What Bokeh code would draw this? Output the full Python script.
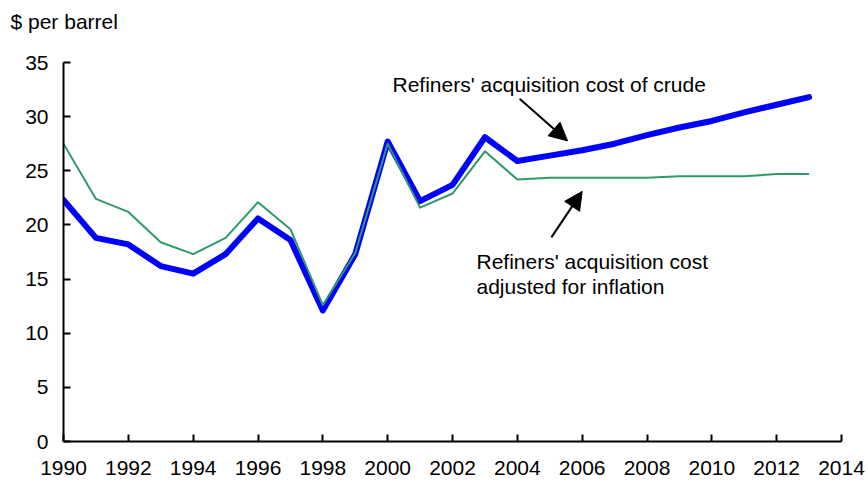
from bokeh.plotting import figure
from bokeh.models import Range1d, FixedTicker, Label, Arrow, NormalHead, ColumnDataSource, Title
from bokeh.embed import file_html
from bokeh.resources import INLINE

years = list(range(1990, 2014))
nominal = [22.3, 18.8, 18.2, 16.2, 15.5, 17.3, 20.6, 18.6, 12.1, 17.3, 27.7, 22.2,
           23.7, 28.1, 25.9, 26.4, 26.9, 27.5, 28.3, 29.0, 29.6, 30.4, 31.1, 31.8]
real = [27.5, 22.4, 21.2, 18.4, 17.3, 18.8, 22.1, 19.6, 12.6, 17.4, 27.5, 21.6,
        22.9, 26.8, 24.2, 24.35, 24.35, 24.35, 24.35, 24.5, 24.5, 24.5, 24.7, 24.7]
x_ticks = list(range(1990, 2015, 2))
y_ticks = list(range(0, 36, 5))
unit_label = "$ per barrel"
nominal_label = "Refiners' acquisition cost of crude"
real_label_lines = ["Refiners' acquisition cost", "adjusted for inflation"]

FONT = "Liberation Sans"
FS = "21px"

src = ColumnDataSource(dict(year=years, nominal=nominal, real=real))

p = figure(width=868, height=481, output_backend="svg", toolbar_location=None,
           x_range=Range1d(1990, 2014), y_range=Range1d(0, 35),
           min_border_left=63, min_border_top=62, min_border_right=27, min_border_bottom=40)
p.outline_line_color = None
p.xgrid.visible = False
p.ygrid.visible = False
p.background_fill_color = "white"
p.border_fill_color = "white"

for ax in (p.xaxis[0], p.yaxis[0]):
    ax.axis_line_width = 2
    ax.axis_line_color = "black"
    ax.major_tick_line_width = 2
    ax.major_tick_line_color = "black"
    ax.major_tick_in = 7
    ax.major_tick_out = 0
    ax.minor_tick_line_color = None
    ax.major_label_text_font = FONT
    ax.major_label_text_font_size = FS
    ax.major_label_text_color = "black"

p.xaxis.ticker = FixedTicker(ticks=x_ticks)
p.yaxis.ticker = FixedTicker(ticks=y_ticks)
p.xaxis.major_label_standoff = 19
p.yaxis.major_label_standoff = 15

p.line("year", "nominal", source=src, line_color="#0000ff", line_width=6,
       line_join="round", line_cap="round")
p.line("year", "real", source=src, line_color="#2e9a66", line_width=2, line_join="round")

# spacer (closest to the frame) then the unit label above it
p.add_layout(Title(text=" ", text_font_size="12px", standoff=14), "above")
p.add_layout(Title(text=unit_label, align="left", offset=-53, standoff=0,
                   text_font=FONT, text_font_size=FS, text_font_style="normal",
                   text_color="black"), "above")

p.add_layout(Label(x=2000.15, y=32.96, text=nominal_label, text_color="black",
                   text_font=FONT, text_font_size=FS, text_baseline="middle"))
p.add_layout(Label(x=2002.74, y=16.62, text=real_label_lines[0], text_color="black",
                   text_font=FONT, text_font_size=FS, text_baseline="middle"))
p.add_layout(Label(x=2002.74, y=14.35, text=real_label_lines[1], text_color="black",
                   text_font=FONT, text_font_size=FS, text_baseline="middle"))

p.add_layout(Arrow(end=NormalHead(size=18, fill_color="black", line_color="black"),
                   x_start=2004.07, y_start=31.66, x_end=2005.55, y_end=27.76,
                   line_width=2, line_color="black"))
p.add_layout(Arrow(end=NormalHead(size=18, fill_color="black", line_color="black"),
                   x_start=2005.05, y_start=18.85, x_end=2006.0, y_end=23.1,
                   line_width=2, line_color="black"))

open("out.html", "w").write(file_html(p, INLINE))
